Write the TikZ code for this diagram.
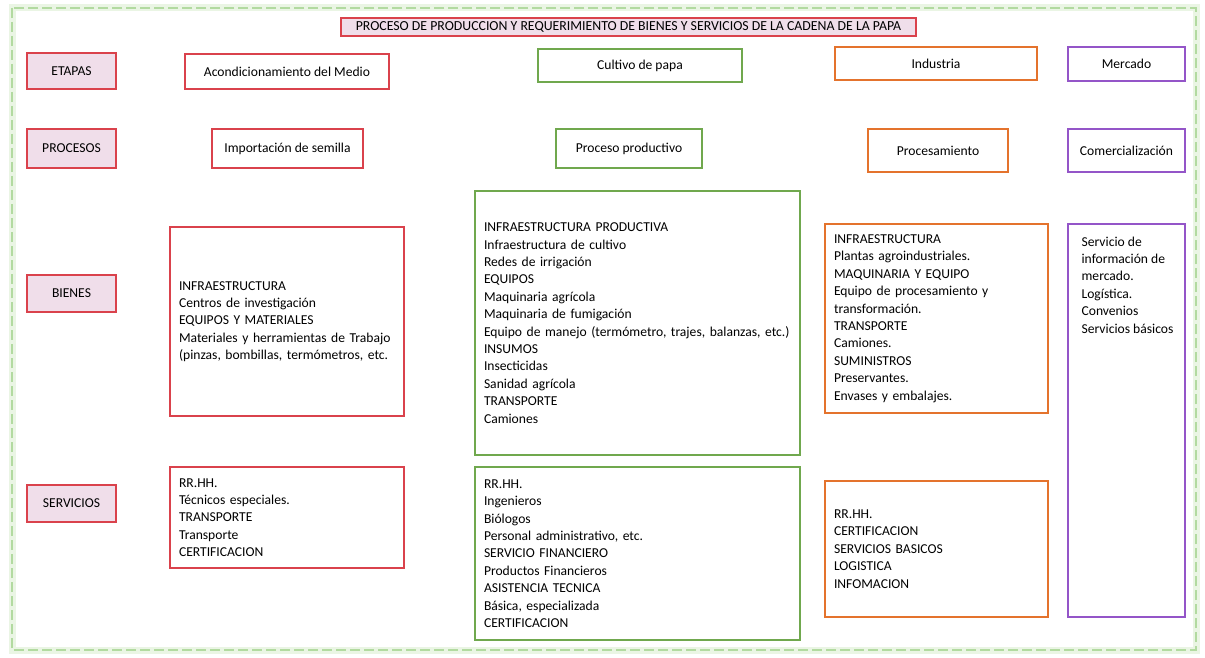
\documentclass[tikz,border=0pt]{standalone}
\usepackage{fontspec}
\setmainfont{Carlito}
\definecolor{rojo}{RGB}{218,66,76}
\definecolor{rosa}{RGB}{240,222,234}
\definecolor{verde}{RGB}{112,168,78}
\definecolor{naranja}{RGB}{228,115,45}
\definecolor{morado}{RGB}{148,85,200}
\definecolor{marco}{RGB}{178,218,160}
\definecolor{brillo}{RGB}{234,245,228}

\begin{document}
\begin{tikzpicture}[
		x=1pt, y=-1pt,
		font=\fontsize{13.6}{17.4}\selectfont,
		rowlabel/.style={draw=rojo, fill=rosa, line width=1.2pt, minimum width=89pt, align=center},
		stagebox/.style={draw, line width=1.2pt, align=center},
		listbox/.style={draw, line width=1.2pt, align=left, inner xsep=9pt}
		]
		\useasboundingbox (0,0) rectangle (1205,658);
		
		% Dashed frame
		\draw[brillo, line width=7pt] (12,8) rectangle (1196,650);
		\draw[marco, line width=2.5pt, dash pattern=on 10pt off 4pt] (12,8) rectangle (1196,650);
		
		% Title
		\node[rowlabel, font=\fontsize{13.8}{14}\selectfont, minimum width=575pt, minimum height=18pt, inner sep=0pt] (titulo) at (628.5,27)
			{PROCESO DE PRODUCCION Y REQUERIMIENTO DE BIENES Y SERVICIOS DE LA CADENA DE LA PAPA};
		
		% Row labels
		\node[rowlabel, minimum height=36pt] (etapas) at (71.5,71) {ETAPAS};
		\node[rowlabel, minimum height=39pt] (procesos) at (71.5,148.5) {PROCESOS};
		\node[rowlabel, minimum height=37pt] (bienes) at (71.5,293.5) {BIENES};
		\node[rowlabel, minimum height=37pt] (servicios) at (71.5,503.5) {SERVICIOS};
		
		% Etapas
		\node[stagebox, draw=rojo, minimum width=204pt, minimum height=35pt] (acond) at (287,71.5) {Acondicionamiento del Medio};
		\node[stagebox, draw=verde, minimum width=204pt, minimum height=33pt] (cultivo) at (640,65.5) {Cultivo de papa};
		\node[stagebox, draw=naranja, minimum width=202pt, minimum height=33pt] (industria) at (936,63.5) {Industria};
		\node[stagebox, draw=morado, minimum width=117pt, minimum height=34pt] (mercado) at (1126.5,64) {Mercado};
		
		% Procesos
		\node[stagebox, draw=rojo, minimum width=151pt, minimum height=39pt] (importacion) at (287.5,148.5) {Importación de semilla};
		\node[stagebox, draw=verde, minimum width=146pt, minimum height=39pt] (productivo) at (629,148.5) {Proceso productivo};
		\node[stagebox, draw=naranja, minimum width=140pt, minimum height=43pt] (procesamiento) at (938,150.5) {Procesamiento};
		\node[stagebox, draw=morado, minimum width=117pt, minimum height=43pt] (comercial) at (1126.5,150.5) {Comercialización};
		
		% Bienes
		\node[listbox, draw=rojo, text width=216pt, minimum height=189pt] (bienesacond) at (287,321.5)
			{INFRAESTRUCTURA\\Centros de investigación\\EQUIPOS Y MATERIALES\\Materiales y herramientas de Trabajo\\(pinzas, bombillas, termómetros, etc.};
		\node[listbox, draw=verde, text width=307pt, minimum height=264pt] (bienescultivo) at (637.5,323)
			{INFRAESTRUCTURA PRODUCTIVA\\Infraestructura de cultivo\\Redes de irrigación\\EQUIPOS\\Maquinaria agrícola\\Maquinaria de fumigación\\Equipo de manejo (termómetro, trajes, balanzas, etc.)\\INSUMOS\\Insecticidas\\Sanidad agrícola\\TRANSPORTE\\Camiones};
		\node[listbox, draw=naranja, text width=205pt, minimum height=189pt] (bienesindustria) at (936.5,318.5)
			{INFRAESTRUCTURA\\Plantas agroindustriales.\\MAQUINARIA Y EQUIPO\\Equipo de procesamiento y\\transformación.\\TRANSPORTE\\Camiones.\\SUMINISTROS\\Preservantes.\\Envases y embalajes.};
		\node[listbox, draw=morado, minimum width=117pt, minimum height=393pt] (bienesmercado) at (1126.5,420.5) {};
		\node[anchor=north west, align=left, inner sep=0pt] (textomercado) at ([xshift=14pt, yshift=-13pt]bienesmercado.north west)
			{Servicio de\\información de\\mercado.\\Logística.\\Convenios\\Servicios básicos};
		
		% Servicios
		\node[listbox, draw=rojo, text width=216pt, minimum height=101pt] (servacond) at (287,517.5)
			{RR.HH.\\Técnicos especiales.\\TRANSPORTE\\Transporte\\CERTIFICACION};
		\node[listbox, draw=verde, text width=307pt, minimum height=173pt] (servcultivo) at (637.5,553.5)
			{RR.HH.\\Ingenieros\\Biólogos\\Personal administrativo, etc.\\SERVICIO FINANCIERO\\Productos Financieros\\ASISTENCIA TECNICA\\Básica, especializada\\CERTIFICACION};
		\node[listbox, draw=naranja, text width=205pt, minimum height=136pt] (servindustria) at (936.5,549)
			{RR.HH.\\CERTIFICACION\\SERVICIOS BASICOS\\LOGISTICA\\INFOMACION};
		
	\end{tikzpicture}
\end{document}
